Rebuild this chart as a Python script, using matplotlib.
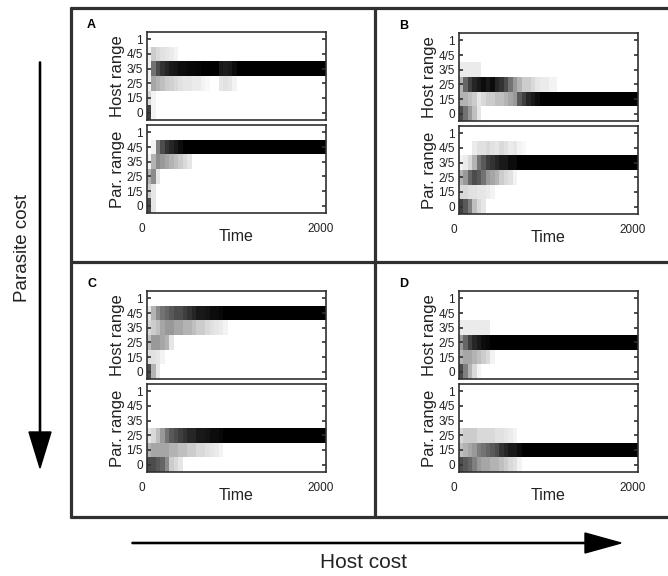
import numpy as np
import matplotlib.pyplot as plt
from matplotlib.transforms import ScaledTranslation

plt.rcParams['font.family'] = ['Liberation Sans', 'DejaVu Sans']

# --- data ---
# time bin edges (generations)
TIME_EDGES = [0, 50, 100, 150, 200, 250, 300, 350, 400, 450, 500, 550, 600,
              650, 700, 750, 800, 850, 900, 950, 1000, 1050, 1100, 1150, 1200, 2000]
RANGE_LABELS = ['0', '1/5', '2/5', '3/5', '4/5', '1']

# rows: range 0 (bottom) ... 1 (top); values = frequency (0 white, 1 black)
A_HOST = [
    [0.75, 0.05, 0, 0, 0, 0, 0, 0, 0, 0, 0, 0, 0, 0, 0, 0, 0, 0, 0, 0, 0, 0, 0, 0, 0],
    [0.15, 0.05, 0, 0, 0, 0, 0, 0, 0, 0, 0, 0, 0, 0, 0, 0, 0, 0, 0, 0, 0, 0, 0, 0, 0],
    [0.05, 0.35, 0.3, 0.25, 0.2, 0.18, 0.15, 0.12, 0.1, 0.1, 0.08, 0.08, 0.05, 0.03, 0, 0, 0.1, 0.12, 0.1, 0.05, 0, 0, 0, 0, 0],
    [0.05, 0.55, 0.7, 0.8, 0.85, 0.9, 0.92, 0.95, 0.95, 0.97, 0.97, 0.98, 1, 1, 1, 1, 0.9, 0.88, 0.9, 0.95, 1, 1, 1, 1, 1],
    [0.05, 0.2, 0.15, 0.12, 0.1, 0.08, 0.05, 0, 0, 0, 0, 0, 0, 0, 0, 0, 0, 0, 0, 0, 0, 0, 0, 0, 0],
    [0, 0, 0, 0, 0, 0, 0, 0, 0, 0, 0, 0, 0, 0, 0, 0, 0, 0, 0, 0, 0, 0, 0, 0, 0],
]
A_PAR = [
    [0.7, 0.1, 0, 0, 0, 0, 0, 0, 0, 0, 0, 0, 0, 0, 0, 0, 0, 0, 0, 0, 0, 0, 0, 0, 0],
    [0.2, 0.1, 0, 0, 0, 0, 0, 0, 0, 0, 0, 0, 0, 0, 0, 0, 0, 0, 0, 0, 0, 0, 0, 0, 0],
    [0.3, 0.45, 0.1, 0, 0, 0, 0, 0, 0, 0, 0, 0, 0, 0, 0, 0, 0, 0, 0, 0, 0, 0, 0, 0, 0],
    [0.05, 0.3, 0.45, 0.4, 0.35, 0.3, 0.25, 0.2, 0.15, 0.1, 0, 0, 0, 0, 0, 0, 0, 0, 0, 0, 0, 0, 0, 0, 0],
    [0, 0.05, 0.5, 0.7, 0.8, 0.85, 0.9, 0.95, 1, 1, 1, 1, 1, 1, 1, 1, 1, 1, 1, 1, 1, 1, 1, 1, 1],
    [0, 0, 0, 0, 0, 0, 0, 0, 0, 0, 0, 0, 0, 0, 0, 0, 0, 0, 0, 0, 0, 0, 0, 0, 0],
]
B_HOST = [
    [0.7, 0.55, 0.4, 0.25, 0.1, 0, 0, 0, 0, 0, 0, 0, 0, 0, 0, 0, 0, 0, 0, 0, 0, 0, 0, 0, 0],
    [0.3, 0.3, 0.25, 0.2, 0.1, 0.15, 0.2, 0.2, 0.25, 0.25, 0.3, 0.35, 0.4, 0.65, 0.75, 0.85, 0.9, 0.95, 1, 1, 1, 1, 1, 1, 1],
    [0.3, 0.6, 0.75, 0.85, 0.9, 0.95, 0.9, 0.95, 0.85, 0.8, 0.7, 0.55, 0.4, 0.3, 0.2, 0.2, 0.15, 0.1, 0.08, 0.08, 0.05, 0.05, 0, 0, 0],
    [0.08, 0.08, 0.08, 0.08, 0.08, 0, 0, 0, 0, 0, 0, 0, 0, 0, 0, 0, 0, 0, 0, 0, 0, 0, 0, 0, 0],
    [0, 0, 0, 0, 0, 0, 0, 0, 0, 0, 0, 0, 0, 0, 0, 0, 0, 0, 0, 0, 0, 0, 0, 0, 0],
    [0, 0, 0, 0, 0, 0, 0, 0, 0, 0, 0, 0, 0, 0, 0, 0, 0, 0, 0, 0, 0, 0, 0, 0, 0],
]
B_PAR = [
    [0.75, 0.65, 0.5, 0.25, 0.15, 0.1, 0, 0, 0, 0, 0, 0, 0, 0, 0, 0, 0, 0, 0, 0, 0, 0, 0, 0, 0],
    [0.15, 0.15, 0.12, 0.12, 0.1, 0.1, 0.08, 0.05, 0, 0, 0, 0, 0, 0, 0, 0, 0, 0, 0, 0, 0, 0, 0, 0, 0],
    [0.3, 0.4, 0.6, 0.7, 0.65, 0.55, 0.4, 0.35, 0.3, 0.2, 0.15, 0.12, 0.05, 0, 0, 0, 0, 0, 0, 0, 0, 0, 0, 0, 0],
    [0.05, 0.08, 0.15, 0.3, 0.55, 0.65, 0.75, 0.8, 0.85, 0.9, 0.9, 0.95, 0.95, 1, 1, 1, 1, 1, 1, 1, 1, 1, 1, 1, 1],
    [0, 0, 0, 0.08, 0.12, 0.12, 0.15, 0.12, 0.1, 0.15, 0.12, 0.08, 0.1, 0.05, 0.03, 0, 0, 0, 0, 0, 0, 0, 0, 0, 0],
    [0, 0, 0, 0, 0, 0, 0, 0, 0, 0, 0, 0, 0, 0, 0, 0, 0, 0, 0, 0, 0, 0, 0, 0, 0],
]
C_HOST = [
    [0.7, 0.3, 0.1, 0, 0, 0, 0, 0, 0, 0, 0, 0, 0, 0, 0, 0, 0, 0, 0, 0, 0, 0, 0, 0, 0],
    [0.12, 0.12, 0.1, 0.05, 0, 0, 0, 0, 0, 0, 0, 0, 0, 0, 0, 0, 0, 0, 0, 0, 0, 0, 0, 0, 0],
    [0.25, 0.4, 0.4, 0.35, 0.3, 0.1, 0, 0, 0, 0, 0, 0, 0, 0, 0, 0, 0, 0, 0, 0, 0, 0, 0, 0, 0],
    [0.15, 0.2, 0.25, 0.35, 0.4, 0.4, 0.35, 0.35, 0.3, 0.3, 0.25, 0.2, 0.2, 0.15, 0.12, 0.1, 0.08, 0.05, 0, 0, 0, 0, 0, 0, 0],
    [0.1, 0.3, 0.45, 0.55, 0.6, 0.65, 0.7, 0.7, 0.75, 0.8, 0.85, 0.9, 0.9, 0.92, 0.95, 0.95, 0.97, 1, 1, 1, 1, 1, 1, 1, 1],
    [0, 0, 0, 0, 0, 0, 0, 0, 0, 0, 0, 0, 0, 0, 0, 0, 0, 0, 0, 0, 0, 0, 0, 0, 0],
]
C_PAR = [
    [0.7, 0.7, 0.65, 0.6, 0.45, 0.2, 0.15, 0.1, 0, 0, 0, 0, 0, 0, 0, 0, 0, 0, 0, 0, 0, 0, 0, 0, 0],
    [0.3, 0.35, 0.35, 0.35, 0.35, 0.3, 0.3, 0.25, 0.25, 0.2, 0.2, 0.15, 0.15, 0.12, 0.1, 0.08, 0.05, 0, 0, 0, 0, 0, 0, 0, 0],
    [0.1, 0.15, 0.25, 0.4, 0.55, 0.65, 0.7, 0.75, 0.8, 0.85, 0.85, 0.9, 0.9, 0.92, 0.95, 0.95, 0.97, 1, 1, 1, 1, 1, 1, 1, 1],
    [0, 0, 0, 0, 0, 0, 0, 0, 0, 0, 0, 0, 0, 0, 0, 0, 0, 0, 0, 0, 0, 0, 0, 0, 0],
    [0, 0, 0, 0, 0, 0, 0, 0, 0, 0, 0, 0, 0, 0, 0, 0, 0, 0, 0, 0, 0, 0, 0, 0, 0],
    [0, 0, 0, 0, 0, 0, 0, 0, 0, 0, 0, 0, 0, 0, 0, 0, 0, 0, 0, 0, 0, 0, 0, 0, 0],
]
D_HOST = [
    [0.7, 0.5, 0.3, 0.15, 0.05, 0, 0, 0, 0, 0, 0, 0, 0, 0, 0, 0, 0, 0, 0, 0, 0, 0, 0, 0, 0],
    [0.3, 0.35, 0.35, 0.3, 0.25, 0.2, 0.15, 0.05, 0, 0, 0, 0, 0, 0, 0, 0, 0, 0, 0, 0, 0, 0, 0, 0, 0],
    [0.4, 0.6, 0.75, 0.85, 0.9, 0.95, 0.97, 1, 1, 1, 1, 1, 1, 1, 1, 1, 1, 1, 1, 1, 1, 1, 1, 1, 1],
    [0.08, 0.08, 0.08, 0.08, 0.08, 0.08, 0.08, 0, 0, 0, 0, 0, 0, 0, 0, 0, 0, 0, 0, 0, 0, 0, 0, 0, 0],
    [0, 0, 0, 0, 0, 0, 0, 0, 0, 0, 0, 0, 0, 0, 0, 0, 0, 0, 0, 0, 0, 0, 0, 0, 0],
    [0, 0, 0, 0, 0, 0, 0, 0, 0, 0, 0, 0, 0, 0, 0, 0, 0, 0, 0, 0, 0, 0, 0, 0, 0],
]
D_PAR = [
    [0.7, 0.65, 0.6, 0.5, 0.4, 0.35, 0.35, 0.3, 0.3, 0.25, 0.2, 0.15, 0.12, 0.05, 0, 0, 0, 0, 0, 0, 0, 0, 0, 0, 0],
    [0.25, 0.3, 0.35, 0.4, 0.5, 0.55, 0.6, 0.65, 0.7, 0.8, 0.85, 0.9, 0.9, 0.95, 1, 1, 1, 1, 1, 1, 1, 1, 1, 1, 1],
    [0.15, 0.2, 0.2, 0.2, 0.15, 0.15, 0.15, 0.15, 0.12, 0.12, 0.1, 0.08, 0.05, 0, 0, 0, 0, 0, 0, 0, 0, 0, 0, 0, 0],
    [0, 0, 0, 0, 0, 0, 0, 0, 0, 0, 0, 0, 0, 0, 0, 0, 0, 0, 0, 0, 0, 0, 0, 0, 0],
    [0, 0, 0, 0, 0, 0, 0, 0, 0, 0, 0, 0, 0, 0, 0, 0, 0, 0, 0, 0, 0, 0, 0, 0, 0],
    [0, 0, 0, 0, 0, 0, 0, 0, 0, 0, 0, 0, 0, 0, 0, 0, 0, 0, 0, 0, 0, 0, 0, 0, 0],
]

PANELS = {'A': (A_HOST, A_PAR), 'B': (B_HOST, B_PAR),
          'C': (C_HOST, C_PAR), 'D': (D_HOST, D_PAR)}

# --- layout (pixels, from top-left) ---
W, H = 668, 576
# panel -> (axes left, host top, par top)
PANEL_POS = {'A': (147, 32, 125), 'B': (459, 33, 126),
             'C': (147, 291, 384), 'D': (459, 291, 384)}
AX_W, AX_H = 179, 88
TXT = '#222222'
FRAME = '#303030'

fig = plt.figure(figsize=(W / 100, H / 100), dpi=100)

# overlay in pixel coordinates for frame, arrows and cost labels
over = fig.add_axes([0, 0, 1, 1])
over.set_xlim(0, W)
over.set_ylim(H, 0)
over.axis('off')

for xs, ys in [([70, 670], [8, 8]), ([70, 670], [517, 517]), ([71, 71], [7, 518]),
               ([375, 375], [7, 518]), ([70, 670], [262, 262])]:
    over.plot(xs, ys, color=FRAME, lw=2.3, solid_capstyle='butt')

over.arrow(40, 62, 0, 406, width=1.2, head_width=22, head_length=36,
           length_includes_head=True, color='black')
over.arrow(132, 543, 489, 0, width=1.2, head_width=20, head_length=36,
           length_includes_head=True, color='black')
over.text(23, 248, 'Parasite cost', rotation=90, ha='center', va='center',
          fontsize=13.5, color=TXT)
over.text(363, 562, 'Host cost', ha='center', va='center', fontsize=15, color=TXT)


def px_axes(left, top):
    return fig.add_axes([left / W, 1 - (top + AX_H) / H, AX_W / W, AX_H / H])


def style_axes(ax, ylabel):
    ax.set_xlim(TIME_EDGES[0], TIME_EDGES[-1])
    ax.set_ylim(-0.5, len(RANGE_LABELS) - 0.5)
    ax.set_yticks(range(len(RANGE_LABELS)))
    ax.set_yticklabels(RANGE_LABELS)
    ax.tick_params(axis='y', direction='in', length=3, width=1.2, right=True,
                   labelsize=8.5, labelcolor=TXT, color=FRAME, pad=3)
    ax.set_ylabel(ylabel, fontsize=12, color=TXT, labelpad=1)
    for sp in ax.spines.values():
        sp.set_color(FRAME)
        sp.set_linewidth(1.2)


for name, (host, par) in PANELS.items():
    left, host_top, par_top = PANEL_POS[name]
    for vals in (host, par):
        assert all(len(r) == len(TIME_EDGES) - 1 for r in vals)

    ax_h = px_axes(left, host_top)
    ax_h.pcolormesh(TIME_EDGES, np.arange(len(RANGE_LABELS) + 1) - 0.5, np.array(host),
                    cmap='gray_r', vmin=0, vmax=1, shading='flat')
    style_axes(ax_h, 'Host range')
    ax_h.set_xticks([])

    ax_p = px_axes(left, par_top)
    ax_p.pcolormesh(TIME_EDGES, np.arange(len(RANGE_LABELS) + 1) - 0.5, np.array(par),
                    cmap='gray_r', vmin=0, vmax=1, shading='flat')
    style_axes(ax_p, 'Par. range')
    ax_p.set_xticks([0, 2000])
    ax_p.tick_params(axis='x', length=0, labelsize=8.5, labelcolor=TXT, pad=7)
    shift = ScaledTranslation(-5 / 100, 0, fig.dpi_scale_trans)
    for lab in ax_p.get_xticklabels():
        lab.set_transform(lab.get_transform() + shift)
    ax_p.text(0.5, -0.27, 'Time', transform=ax_p.transAxes, ha='center', va='center',
              fontsize=11.5, color=TXT)

    over.text(left - 60, host_top - 7, name, fontsize=9, fontweight='bold',
              ha='left', va='center', color='black')

fig.savefig('out.png', dpi=100)
